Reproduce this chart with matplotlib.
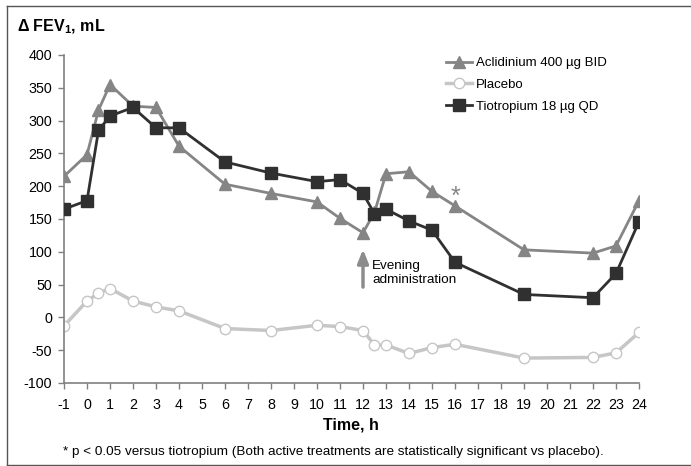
import matplotlib
matplotlib.use("Agg")
import matplotlib.pyplot as plt
from matplotlib.lines import Line2D

plt.rcParams['font.family'] = ['Liberation Sans', 'DejaVu Sans']
plt.rcParams['mathtext.fontset'] = 'custom'
plt.rcParams['mathtext.rm'] = 'Liberation Sans'
plt.rcParams['mathtext.bf'] = 'Liberation Sans:bold'
plt.rcParams['axes.unicode_minus'] = False

times = [-1, 0, 0.5, 1, 2, 3, 4, 6, 8, 10, 11, 12, 12.5, 13, 14, 15, 16, 19, 22, 23, 24]
aclidinium = [215, 248, 316, 355, 322, 320, 261, 203, 189, 176, 151, 129, 160, 219, 222, 192, 170, 103, 98, 109, 178]
placebo = [-13, 25, 37, 44, 25, 16, 10, -17, -20, -12, -14, -20, -42, -42, -55, -46, -41, -62, -61, -54, -23]
tiotropium = [165, 178, 285, 307, 320, 289, 289, 237, 220, 207, 210, 189, 158, 165, 147, 133, 84, 35, 30, 67, 146]

labels = ['Aclidinium 400 µg BID', 'Placebo', 'Tiotropium 18 µg QD']
xticks = list(range(-1, 25))
yticks = list(range(-100, 401, 50))

W, H = 691, 466
fig = plt.figure(figsize=(W / 100, H / 100), dpi=100)
ax = fig.add_axes([64 / W, 1 - 383 / H, (639 - 64) / W, (383 - 55) / H])

c_acl = '#858585'
c_pla = '#c6c6c6'
c_tio = '#303030'

ax.plot(times, aclidinium, color=c_acl, lw=2, marker='^', ms=8.5,
        mfc=c_acl, mec=c_acl, label=labels[0], zorder=3)
ax.plot(times, placebo, color=c_pla, lw=2.5, marker='o', ms=7.5,
        mfc='white', mec=c_pla, mew=1, label=labels[1], zorder=2)
ax.plot(times, tiotropium, color=c_tio, lw=2, marker='s', ms=8,
        mfc=c_tio, mec=c_tio, label=labels[2], zorder=4)

ax.set_xlim(-1, 24)
ax.set_ylim(-100, 400)
ax.set_xticks(xticks)
ax.set_yticks(yticks)
ax.tick_params(axis='both', labelsize=10.3, color='#808080', length=4, width=1)
ax.tick_params(axis='x', pad=6.5)
ax.tick_params(axis='y', pad=4.5)
for s in ['top', 'right']:
    ax.spines[s].set_visible(False)
for s in ['left', 'bottom']:
    ax.spines[s].set_color('#808080')
    ax.spines[s].set_linewidth(1.2)

leg = ax.legend(loc='upper left', bbox_to_anchor=(0.655, 1.01), frameon=False,
                fontsize=9.5, handlelength=2.0, handletextpad=0.3,
                labelspacing=0.72, borderaxespad=0)

# Evening administration arrow
ax.annotate('', xy=(12, 108), xytext=(12, 42),
            arrowprops=dict(arrowstyle='-|>,head_width=0.32,head_length=0.8',
                            color='#8c8c8c', lw=2.5))
ax.text(12.4, 68, 'Evening\nadministration', fontsize=9.7, ha='left', va='center',
        linespacing=1.2)
ax.text(16, 184, '*', fontsize=18, color=c_acl, ha='center', va='center')

fig.text(17 / W, 1 - 27 / H, r'Δ FEV$_{\mathbf{1}}$, mL', fontsize=11.5, fontweight='bold',
         ha='left', va='center')
fig.text(351 / W, 1 - 425 / H, 'Time, h', fontsize=11.5, fontweight='bold',
         ha='center', va='center')
fig.text(63 / W, 1 - 452 / H,
         '* p < 0.05 versus tiotropium (Both active treatments are statistically significant vs placebo).',
         fontsize=9.7, ha='left', va='center')

# outer frame (right side is cut off in the original)
fx0, fy0, fy1 = 7 / W, 1 - 465 / H, 1 - 6 / H
frame_kw = dict(transform=fig.transFigure, color='#555555', lw=1)
fig.add_artist(Line2D([fx0, 1], [fy1, fy1], **frame_kw))
fig.add_artist(Line2D([fx0, fx0], [fy0, fy1], **frame_kw))
fig.add_artist(Line2D([fx0, 1], [fy0, fy0], **frame_kw))

fig.savefig('out.png', dpi=100)
